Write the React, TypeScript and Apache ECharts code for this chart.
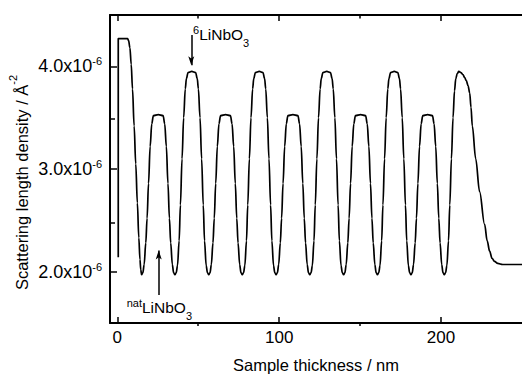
import React, { useEffect, useRef } from 'react';
import * as echarts from 'echarts';

const FONT = '"Liberation Sans", Arial, Helvetica, sans-serif';

// Scattering length density profile: [sample thickness (nm), SLD (x10^-6 Å^-2)]
const profile: [number, number][] = [
  // first layer
  [0.6, 2.14], [0.6, 4.27], [6.4, 4.27], [7.0, 4.25], [7.8, 4.18], [8.6, 4.02], [9.4, 3.78], [10.4, 3.42], [11.4, 3.05], [12.4, 2.67], [13.3, 2.33], [14.0, 2.12], [14.5, 2.02], [15.0, 1.97],
  // natLiNbO3 1
  [15.8, 1.99], [16.6, 2.07], [17.6, 2.28], [18.4, 2.52], [19.3, 2.86], [20.3, 3.22], [21.3, 3.44], [22.3, 3.52], [25.3, 3.53], [28.3, 3.52], [29.3, 3.44], [30.3, 3.22], [31.3, 2.86], [32.2, 2.52], [33.0, 2.28], [34.0, 2.07], [34.8, 1.99], [35.6, 1.97],
  // 6LiNbO3 1
  [36.4, 1.99], [37.2, 2.06], [38.2, 2.30], [39.0, 2.65], [40.0, 3.10], [41.0, 3.50], [42.0, 3.78], [42.7, 3.88], [43.7, 3.94], [46.0, 3.95], [48.4, 3.94], [49.4, 3.88], [50.1, 3.78], [51.1, 3.50], [52.1, 3.10], [53.1, 2.65], [53.9, 2.30], [54.9, 2.06], [55.7, 1.99], [56.5, 1.97],
  // natLiNbO3 2
  [57.3, 1.99], [58.1, 2.07], [59.1, 2.28], [59.9, 2.52], [60.8, 2.86], [61.8, 3.22], [62.8, 3.44], [63.8, 3.52], [66.9, 3.53], [69.9, 3.52], [70.9, 3.44], [71.9, 3.22], [72.9, 2.86], [73.8, 2.52], [74.6, 2.28], [75.6, 2.07], [76.4, 1.99], [77.2, 1.97],
  // 6LiNbO3 2
  [78.0, 1.99], [78.8, 2.06], [79.8, 2.30], [80.6, 2.65], [81.6, 3.10], [82.6, 3.50], [83.6, 3.78], [84.3, 3.88], [85.3, 3.94], [87.7, 3.95], [90.0, 3.94], [91.0, 3.88], [91.7, 3.78], [92.7, 3.50], [93.7, 3.10], [94.7, 2.65], [95.5, 2.30], [96.5, 2.06], [97.3, 1.99], [98.1, 1.97],
  // natLiNbO3 3
  [98.9, 1.99], [99.7, 2.07], [100.7, 2.28], [101.5, 2.52], [102.4, 2.86], [103.4, 3.22], [104.4, 3.44], [105.4, 3.52], [108.5, 3.53], [111.6, 3.52], [112.6, 3.44], [113.6, 3.22], [114.6, 2.86], [115.5, 2.52], [116.3, 2.28], [117.3, 2.07], [118.1, 1.99], [118.9, 1.97],
  // 6LiNbO3 3
  [119.7, 1.99], [120.5, 2.06], [121.5, 2.30], [122.3, 2.65], [123.3, 3.10], [124.3, 3.50], [125.3, 3.78], [126.0, 3.88], [127.0, 3.94], [129.4, 3.95], [131.7, 3.94], [132.7, 3.88], [133.4, 3.78], [134.4, 3.50], [135.4, 3.10], [136.4, 2.65], [137.2, 2.30], [138.2, 2.06], [139.0, 1.99], [139.8, 1.97],
  // natLiNbO3 4
  [140.6, 1.99], [141.4, 2.07], [142.4, 2.28], [143.2, 2.52], [144.1, 2.86], [145.1, 3.22], [146.1, 3.44], [147.1, 3.52], [150.3, 3.53], [153.4, 3.52], [154.4, 3.44], [155.4, 3.22], [156.4, 2.86], [157.3, 2.52], [158.1, 2.28], [159.1, 2.07], [159.9, 1.99], [160.7, 1.97],
  // 6LiNbO3 4
  [161.5, 1.99], [162.3, 2.06], [163.3, 2.30], [164.1, 2.65], [165.1, 3.10], [166.1, 3.50], [167.1, 3.78], [167.8, 3.88], [168.8, 3.94], [171.1, 3.95], [173.3, 3.94], [174.3, 3.88], [175.0, 3.78], [176.0, 3.50], [177.0, 3.10], [178.0, 2.65], [178.8, 2.30], [179.8, 2.06], [180.6, 1.99], [181.4, 1.97],
  // natLiNbO3 5
  [182.2, 1.99], [183.0, 2.07], [184.0, 2.28], [184.8, 2.52], [185.7, 2.86], [186.7, 3.22], [187.7, 3.44], [188.7, 3.52], [191.7, 3.53], [194.7, 3.52], [195.7, 3.44], [196.7, 3.22], [197.7, 2.86], [198.6, 2.52], [199.4, 2.28], [200.4, 2.07], [201.2, 1.99], [202.0, 1.97],
  // 6LiNbO3 5 and surface
  [202.8, 1.99], [203.6, 2.06], [204.6, 2.30], [205.4, 2.65], [206.4, 3.10], [207.4, 3.50], [208.3, 3.76], [209.1, 3.88], [210.0, 3.93], [211.0, 3.95], [212.2, 3.94], [213.5, 3.92], [214.6, 3.89], [215.6, 3.86], [216.7, 3.81], [217.7, 3.74], [218.5, 3.60], [219.3, 3.42], [221.4, 3.10], [223.8, 2.78], [226.9, 2.46], [228.5, 2.30], [230.0, 2.20], [231.5, 2.13], [233.0, 2.10], [235.0, 2.08], [238.1, 2.07], [250.0, 2.07],
];

const xRange = [-4.5, 250];
const yRange = [1.5, 4.5];
const xMajorTicks = [0, 100, 200];
const xMinorTicks = [50, 150];
const yMajorTicks = [2, 3, 4];
const yMinorTicks = [2.5, 3.5];

// annotation arrows (x, start y, end y) in data units
const arrows = [
  { x: 45.7, from: 4.305, to: 4.011 },
  { x: 25.6, from: 1.772, to: 2.207 },
];
// annotation texts: anchor (left, middle) in data units
const annotations = [
  { x: 46.8, y: 4.31, sup: '6', main: 'LiNbO', sub: '3' },
  { x: 5.8, y: 1.655, sup: 'nat', main: 'LiNbO', sub: '3' },
];

const xTitle = 'Sample thickness / nm';
const yTitle = 'Scattering length density / Å';
const yTitleSup = '-2';

export default function App() {
  const ref = useRef<HTMLDivElement>(null);
  useEffect(() => {
    if (!ref.current) return;
    const chart = echarts.init(ref.current, undefined, { renderer: 'svg' });
    const rect = { left: 110, top: 15, width: 414, height: 311 };
    const black = '#000';
    const lineW = 2;
    const tick = (len: number, vals: number[]) => ({
      show: true, inside: true, length: len, customValues: vals,
      lineStyle: { color: black, width: 1.5 },
    });
    const option: any = {
      animation: false,
      grid: [{ ...rect }, { ...rect, show: false }],
      xAxis: [
        {
          gridIndex: 0, type: 'value', position: 'bottom', min: xRange[0], max: xRange[1],
          axisLine: { show: true, onZero: false, lineStyle: { color: black, width: lineW } },
          axisTick: tick(6, xMajorTicks),
          axisLabel: { customValues: xMajorTicks, color: black, fontSize: 17, fontFamily: FONT, margin: 6 },
          splitLine: { show: false },
          name: xTitle, nameLocation: 'middle', nameGap: 33,
          nameTextStyle: { color: black, fontSize: 16.5, fontFamily: FONT },
        },
        {
          gridIndex: 0, type: 'value', position: 'top', min: xRange[0], max: xRange[1],
          axisLine: { show: true, onZero: false, lineStyle: { color: black, width: lineW } },
          axisTick: tick(6, xMajorTicks),
          axisLabel: { show: false },
          splitLine: { show: false },
        },
        {
          gridIndex: 1, type: 'value', position: 'bottom', min: xRange[0], max: xRange[1],
          axisLine: { show: false, onZero: false },
          axisTick: tick(3.5, xMinorTicks),
          axisLabel: { show: false },
          splitLine: { show: false },
        },
        {
          gridIndex: 1, type: 'value', position: 'top', min: xRange[0], max: xRange[1],
          axisLine: { show: false, onZero: false },
          axisTick: tick(3.5, xMinorTicks),
          axisLabel: { show: false },
          splitLine: { show: false },
        },
      ],
      yAxis: [
        {
          gridIndex: 0, type: 'value', position: 'left', min: yRange[0], max: yRange[1],
          axisLine: { show: true, onZero: false, lineStyle: { color: black, width: lineW } },
          axisTick: tick(7, yMajorTicks),
          axisLabel: {
            customValues: yMajorTicks, margin: 8, color: black,
            formatter: (v: number) => `{a|${v.toFixed(1)}x10}{b|-6}`,
            rich: {
              a: { fontSize: 18, lineHeight: 21, fontFamily: FONT, color: black },
              b: { fontSize: 11, lineHeight: 11, verticalAlign: 'top', fontFamily: FONT, color: black },
            },
          },
          splitLine: { show: false },
        },
        {
          gridIndex: 1, type: 'value', position: 'left', min: yRange[0], max: yRange[1],
          axisLine: { show: false, onZero: false },
          axisTick: tick(5, yMinorTicks),
          axisLabel: { show: false },
          splitLine: { show: false },
        },
      ],
      series: [
        {
          type: 'line', xAxisIndex: 0, yAxisIndex: 0, data: profile,
          symbol: 'none', showSymbol: false, smooth: 0.35, smoothMonotone: 'x', silent: true,
          lineStyle: { color: black, width: 1.7 },
          markLine: {
            silent: true, animation: false,
            symbol: ['none', 'arrow'],
            label: { show: false },
            lineStyle: { color: black, width: 1.5, type: 'solid' },
            emphasis: { disabled: true },
            data: arrows.map((a) => [
              { coord: [a.x, a.from], symbol: 'none' },
              { coord: [a.x, a.to], symbol: 'arrow', symbolSize: [4.5, 9] },
            ]),
          },
          markPoint: {
            silent: true, animation: false,
            symbol: 'circle', symbolSize: 0,
            itemStyle: { color: 'transparent' },
            label: {
              show: true, position: 'right', distance: 0, color: black,
              rich: {
                sup: { fontSize: 11, lineHeight: 11, verticalAlign: 'top', padding: [4, 0, 0, 0], fontFamily: FONT, color: black },
                t: { fontSize: 15.5, lineHeight: 28, fontFamily: FONT, color: black },
                sub: { fontSize: 11, lineHeight: 11, verticalAlign: 'bottom', fontFamily: FONT, color: black },
              },
            },
            data: annotations.map((a) => ({
              coord: [a.x, a.y],
              label: { formatter: `{sup|${a.sup}}{t|${a.main}}{sub|${a.sub}}` },
            })),
          },
        },
      ],
      graphic: [
        {
          type: 'text', x: 21.5, y: 182.5, rotation: Math.PI / 2, silent: true,
          style: {
            text: `{t|${yTitle}}{s|${yTitleSup}}`,
            align: 'center', verticalAlign: 'middle', fill: black,
            rich: {
              t: { fontSize: 16.5, lineHeight: 28, fontFamily: FONT, fill: black },
              s: { fontSize: 11, lineHeight: 11, verticalAlign: 'top', fontFamily: FONT, fill: black },
            },
          },
        },
      ],
    };
    chart.setOption(option);
    return () => chart.dispose();
  }, []);
  return (
    <div
      ref={ref}
      style={{ position: 'fixed', left: 0, top: 0, width: 522, height: 378, background: '#fff' }}
    />
  );
}
